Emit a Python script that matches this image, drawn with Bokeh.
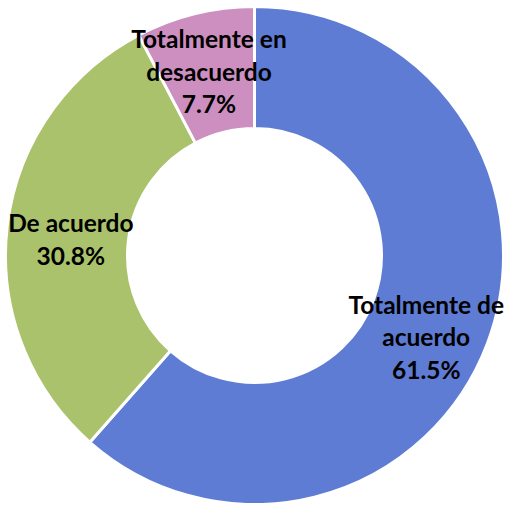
import math
from bokeh.plotting import figure
from bokeh.models import ColumnDataSource
from bokeh.core.properties import value
from bokeh.embed import file_html
from bokeh.resources import INLINE

categories = ["Totalmente de\nacuerdo", "De acuerdo", "Totalmente en\ndesacuerdo"]
percentages = [61.5, 30.8, 7.7]
colors = ["#5E7CD4", "#AAC26B", "#CC8FC0"]

# label nudges (pixels), style only
label_dx = [-6, 5, 0]
label_dy = [-14, -6, 0]

W, H = 504, 503
cx, cy = 254, H - 255
r_in, r_out = 127, 249

total = sum(percentages)
starts, ends, lx, ly, labels = [], [], [], [], []
cum = 0.0
for i, (cat, pct) in enumerate(zip(categories, percentages)):
    a0 = math.pi / 2 - 2 * math.pi * cum / total
    cum += pct
    a1 = math.pi / 2 - 2 * math.pi * cum / total
    starts.append(a0)
    ends.append(a1)
    mid = (a0 + a1) / 2
    rm = (r_in + r_out) / 2 + 2
    lx.append(cx + rm * math.cos(mid) + label_dx[i])
    ly.append(cy + rm * math.sin(mid) + label_dy[i])
    labels.append(f"{cat}\n{pct:.1f}%")

src = ColumnDataSource(dict(start=starts, end=ends, color=colors,
                            lx=lx, ly=ly, label=labels))

p = figure(width=W, height=H, x_range=(0, W), y_range=(0, H),
           output_backend="svg", toolbar_location=None, min_border=0)
p.axis.visible = False
p.grid.visible = False
p.outline_line_color = None
p.background_fill_color = "white"
p.border_fill_color = "white"

p.annular_wedge(x=cx, y=cy, inner_radius=r_in, outer_radius=r_out,
                start_angle="start", end_angle="end", direction="clock",
                fill_color="color", line_color="white", line_width=3,
                source=src)

p.text(x="lx", y="ly", text="label", source=src,
       text_align="center", text_baseline="middle",
       text_font=value("Lato"), text_font_style="bold",
       text_font_size="24.5px", text_color="black", text_line_height=1.12)

open("out.html", "w").write(file_html(p, INLINE))
